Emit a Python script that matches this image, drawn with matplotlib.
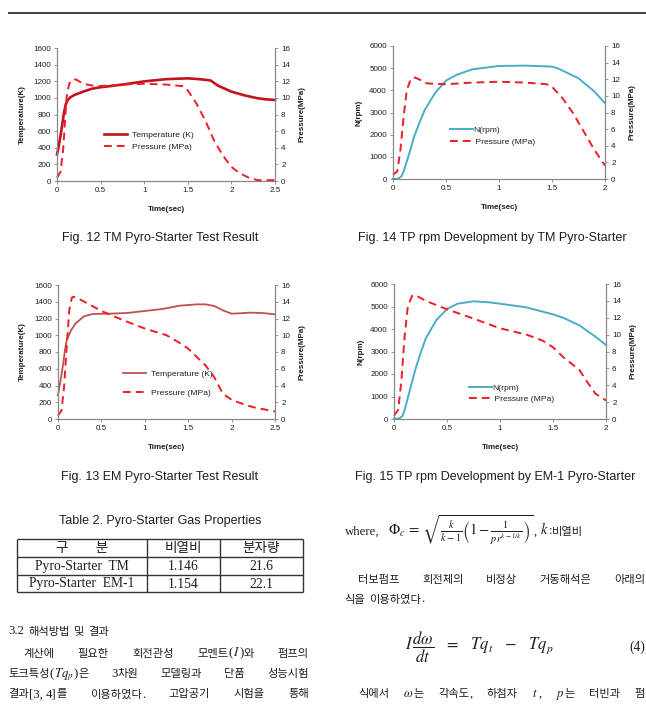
import numpy as np
import matplotlib
matplotlib.use('Agg')
import matplotlib.pyplot as plt

plt.rcParams['mathtext.fontset'] = 'stix'
plt.rcParams['font.family'] = ['Liberation Sans', 'Noto Sans CJK KR']

# ---- data ----
# Fig. 12  TM pyro-starter
tm_T_time = [0, 0.02, 0.04, 0.06, 0.08, 0.1, 0.12, 0.15, 0.2, 0.3, 0.4, 0.5, 0.6, 0.75,
             1.0, 1.25, 1.5, 1.6, 1.72, 1.76, 1.85, 2.0, 2.15, 2.3, 2.4, 2.5]
tm_T = [320, 420, 540, 680, 820, 920, 970, 1005, 1035, 1075, 1110, 1128, 1140, 1160,
        1198, 1225, 1235, 1228, 1215, 1210, 1145, 1075, 1030, 995, 982, 975]
tm_P_time = [0, 0.04, 0.07, 0.09, 0.11, 0.14, 0.18, 0.22, 0.3, 0.45, 0.75, 1.0, 1.25,
             1.45, 1.5, 1.6, 1.7, 1.8, 1.9, 2.0, 2.1, 2.2, 2.3, 2.5]
tm_P = [0.4, 1.1, 3.7, 6.9, 10.1, 11.7, 12.25, 12.2, 11.7, 11.4, 11.6, 11.7, 11.6,
        11.4, 10.9, 9.3, 7.3, 4.9, 3.1, 1.7, 0.9, 0.4, 0.1, 0.1]

# Fig. 14  TP rpm, TM
tmn_time = [0, 0.05, 0.08, 0.1, 0.15, 0.2, 0.25, 0.3, 0.4, 0.5, 0.6, 0.75, 1.0, 1.25,
            1.5, 1.55, 1.6, 1.75, 1.9, 2.0]
tmn_N = [0, 15, 120, 345, 1095, 1920, 2550, 3120, 3900, 4440, 4700, 4950, 5100, 5115,
         5070, 5000, 4890, 4545, 3945, 3420]
tmp_time = [0, 0.04, 0.07, 0.1, 0.13, 0.17, 0.21, 0.26, 0.32, 0.5, 0.75, 1.0, 1.25,
            1.45, 1.5, 1.6, 1.7, 1.8, 1.9, 2.0]
tmp_P = [0.5, 0.9, 3.5, 7.5, 10.7, 12.1, 12.2, 11.9, 11.5, 11.4, 11.6, 11.7, 11.6,
         11.4, 11.1, 9.7, 7.9, 5.7, 3.5, 1.6]

# Fig. 13  EM pyro-starter
em_T_time = [0, 0.03, 0.06, 0.08, 0.1, 0.15, 0.2, 0.3, 0.4, 0.6, 0.8, 1.0, 1.2, 1.4,
             1.5, 1.6, 1.7, 1.8, 1.9, 2.0, 2.1, 2.2, 2.35, 2.5]
em_T = [283, 462, 660, 820, 940, 1059, 1138, 1226, 1254, 1258, 1266, 1290, 1313, 1353,
        1361, 1369, 1369, 1349, 1297, 1258, 1262, 1270, 1266, 1250]
em_P_time = [0, 0.04, 0.07, 0.1, 0.13, 0.16, 0.18, 0.25, 0.5, 0.75, 1.0, 1.25, 1.4,
             1.5, 1.6, 1.7, 1.8, 1.85, 1.9, 2.0, 2.1, 2.25, 2.4, 2.5]
em_P = [0.4, 1.0, 3.8, 8.6, 13.0, 14.5, 14.6, 14.3, 12.9, 11.8, 10.8, 10.0, 9.1,
        8.4, 7.4, 6.4, 5.0, 4.0, 3.0, 2.3, 1.9, 1.4, 1.1, 0.9]

# Fig. 15  TP rpm, EM-1
emn_time = [0, 0.05, 0.08, 0.1, 0.15, 0.2, 0.25, 0.3, 0.4, 0.5, 0.6, 0.75, 0.9, 1.0,
            1.25, 1.5, 1.6, 1.75, 1.9, 2.0]
emn_N = [0, 30, 133, 400, 1290, 2180, 2920, 3585, 4400, 4890, 5125, 5230, 5185, 5125,
         4960, 4650, 4490, 4160, 3660, 3290]
emp_time = [0, 0.04, 0.07, 0.1, 0.13, 0.17, 0.2, 0.3, 0.5, 0.75, 1.0, 1.25, 1.4, 1.5,
            1.6, 1.75, 1.8, 1.9, 2.0]
emp_P = [0.4, 1.1, 4.6, 9.8, 13.3, 14.6, 14.7, 14.0, 13.0, 11.9, 10.75, 10.0, 9.3, 8.5,
         7.3, 5.8, 4.8, 3.0, 2.2]

# Table 2
table_cols = ['구\u3000\u3000분', '비열비', '분자량']
table_rows = [['Pyro-Starter  TM', '1.146', '21.6'],
              ['Pyro-Starter  EM-1', '1.154', '22.1']]

W, H = 646, 707
fig = plt.figure(figsize=(W / 100, H / 100), dpi=100)
page = fig.add_axes([0, 0, 1, 1])
page.set_xlim(0, W)
page.set_ylim(H, 0)
page.axis('off')
renderer = fig.canvas.get_renderer()

INK = '#1e1e1e'
GRAY = '#868686'
RED = '#ee1c25'
BLUE = '#4bacc6'
FS = 5.8


def rect(x0, y0, x1, y1):
    return [x0 / W, 1 - y1 / H, (x1 - x0) / W, (y1 - y0) / H]


def chart(box, t1, v1, lab1, c1, lw1, ymax1, ystep1, ylab1, t2, v2, lab2, xmax,
          leg_xy, leg_sp, leg_pad, ylab_x):
    ax = fig.add_axes(rect(*box))
    ax2 = ax.twinx()
    l1, = ax.plot(t1, v1, color=c1, lw=lw1, label=lab1, clip_on=False)
    l2, = ax2.plot(t2, v2, color=RED, lw=1.4, dashes=(4, 2.6), label=lab2, clip_on=False)
    ax.set_xlim(0, xmax)
    ax.set_ylim(0, ymax1)
    ax2.set_ylim(0, 16)
    ax.set_xticks(np.arange(0, xmax + 0.01, 0.5))
    ax.set_xticklabels([f'{v:g}' for v in np.arange(0, xmax + 0.01, 0.5)])
    ax.set_yticks(np.arange(0, ymax1 + 1, ystep1))
    ax2.set_yticks(np.arange(0, 17, 2))
    for a in (ax, ax2):
        a.set_facecolor('none')
        a.spines['top'].set_visible(False)
        for s in ('left', 'right', 'bottom'):
            a.spines[s].set_color(GRAY)
            a.spines[s].set_linewidth(0.8)
        a.tick_params(labelsize=FS, length=2.2, width=0.6, color=GRAY, pad=2.2,
                      labelcolor=INK)
    ax.set_xlabel('Time(sec)', fontsize=FS, fontweight='bold', color=INK)
    ax.xaxis.set_label_coords(0.5, -0.185)
    ax.set_ylabel(ylab1, fontsize=FS, fontweight='bold', color=INK)
    ax.yaxis.set_label_coords(ylab_x[0], 0.5)
    ax2.set_ylabel('Pressure(MPa)', fontsize=FS, fontweight='bold', color=INK)
    ax2.yaxis.set_label_coords(ylab_x[1], 0.5)
    ax2.legend(handles=[l1, l2], loc='center left', bbox_to_anchor=leg_xy,
               frameon=False, fontsize=6.1, borderpad=0, borderaxespad=0,
               handlelength=2.7, handletextpad=leg_pad, labelspacing=leg_sp,
               labelcolor=INK)
    return ax


chart((57, 48, 275, 181), tm_T_time, tm_T, 'Temperature (K)', '#c0141c', 1.9, 1600, 200,
      'Temperature(K)', tm_P_time, tm_P, 'Pressure (MPa)', 2.5,
      (0.216, 0.30), 0.5, 0.6, (-0.142, 1.11))
chart((393, 46, 605, 179), tmn_time, tmn_N, 'N(rpm)', BLUE, 1.4, 6000, 1000,
      'N(rpm)', tmp_time, tmp_P, ' Pressure (MPa)', 2,
      (0.269, 0.324), 0.5, 0.05, (-0.146, 1.113))
chart((58, 285, 275, 419), em_T_time, em_T, 'Temperature (K)', '#c0504d', 1.3, 1600, 200,
      'Temperature(K)', em_P_time, em_P, 'Pressure (MPa)', 2.5,
      (0.298, 0.266), 1.25, 0.6, (-0.147, 1.11))
chart((394, 284, 606, 419), emn_time, emn_N, 'N(rpm)', BLUE, 1.4, 6000, 1000,
      'N(rpm)', emp_time, emp_P, ' Pressure (MPa)', 2,
      (0.354, 0.19), 0.32, 0.05, (-0.138, 1.113))

# ---- page furniture ----
page.plot([8, W], [12.7, 12.7], color='#333333', lw=1.3, solid_capstyle='butt')

cap = dict(ha='center', va='center', fontsize=9, color=INK, family='Liberation Sans')
page.text(160, 238, 'Fig. 12 TM Pyro-Starter Test Result', **cap)
page.text(492, 238, 'Fig. 14 TP rpm Development by TM Pyro-Starter', **cap)
page.text(160, 477, 'Fig. 13 EM Pyro-Starter Test Result', **cap)
page.text(495, 477, 'Fig. 15 TP rpm Development by EM-1 Pyro-Starter', **cap)
page.text(160, 521, 'Table 2. Pyro-Starter Gas Properties', **cap)

# table
tx = [17.3, 146.7, 220, 302.7]
ty = [539.3, 556.7, 574.7, 592.3]
for y in ty:
    page.plot([tx[0], tx[-1]], [y, y], color='#333333', lw=1.0, solid_capstyle='butt')
for x in tx:
    page.plot([x, x], [ty[0], ty[-1]], color='#333333', lw=1.0, solid_capstyle='butt')
cells = [table_cols] + table_rows
for r, row in enumerate(cells):
    for c, val in enumerate(row):
        page.text((tx[c] + tx[c + 1]) / 2, (ty[r] + ty[r + 1]) / 2 + 0.5, val,
                  ha='center', va='center', fontsize=9.8, color=INK,
                  family=['Liberation Serif', 'Noto Sans CJK KR'])

# body text
STYLE = {'k': dict(family='Noto Sans CJK KR', fontsize=8.1, fontweight='medium'),
         'l': dict(family='Liberation Serif', fontsize=9.2),
         'm': dict(fontsize=9.2)}
SPACE = 3.0


def runs_of(s):
    out = []
    for i, p in enumerate(s.split('$')):
        if i % 2:
            out.append(('m', '$' + p + '$'))
            continue
        cur, kind = '', None
        for ch in p:
            k = 'k' if '\uac00' <= ch <= '\ud7a3' else ('s' if ch == ' ' else 'l')
            if k != kind and cur:
                out.append((kind, cur))
                cur = ''
            kind = k
            cur += ch
        if cur:
            out.append((kind, cur))
    return out


def make_word(s, y, msize):
    arts, x = [], 0
    for kind, txt in runs_of(s):
        if kind == 's':
            x += SPACE * len(txt)
            continue
        st = dict(STYLE[kind])
        if kind == 'm' and msize:
            st['fontsize'] = msize
        t = page.text(0, y, txt, ha='left', va='baseline', color=INK, **st)
        arts.append((t, x))
        x += t.get_window_extent(renderer).width
    return arts, x


def line(s, x0, y, x1=None, gap=5.0, msize=None):
    built = [make_word(w.replace('~', ' '), y, msize) for w in s.split(' ')]
    if x1 is not None and len(built) > 1:
        gap = (x1 - x0 - sum(wd for _, wd in built)) / (len(built) - 1)
    x = x0
    for arts, wd in built:
        for t, off in arts:
            t.set_x(x + off)
        x += wd + gap


line('3.2 해석방법 및 결과', 8.3, 634.5, gap=4)
line('계산에 필요한 회전관성 모멘트($I$)와 펌프의', 23, 656.5, 309)
line('토크특성($Tq_p$)은 3차원 모델링과 단품 성능시험', 8.3, 677, 309)
line('결과[3,~4]를 이용하였다. 고압공기 시험을 통해', 8.3, 697.5, 309)

line(r'where,~~~$\Phi_c\,=\,\sqrt{\frac{k}{k-1}\left(1-\frac{1}{pr^{k-1/k}}\right)}$,~$k$:비열비',
     344.7, 534.5, msize=10.6)
line('터보펌프 회전체의 비정상 거동해석은 아래의', 358, 583, 645)
line('식을 이용하였다.', 344.7, 602.5, gap=4)
page.text(479, 651, r'$I\,\dfrac{d\omega}{dt}\;\;\;=\;\;\;Tq_t\;\;\;-\;\;\;Tq_p$',
          ha='center', va='baseline', fontsize=12, color=INK)
page.text(645, 651, '(4)', ha='right', va='baseline', fontsize=9.8, color=INK,
          family='Liberation Serif')
line('식에서 $\\omega$는 각속도, 하첨자 $t$, $p$는 터빈과 펌', 358, 697, 645)

fig.savefig('out.png', dpi=100)
